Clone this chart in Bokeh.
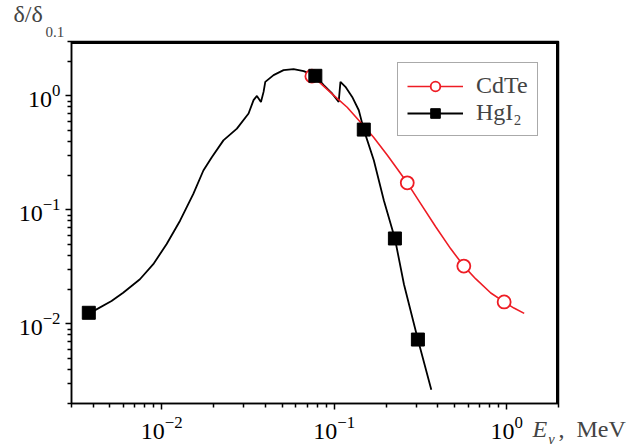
import math
from bokeh.plotting import figure
from bokeh.models import Range1d, FixedTicker, Label, Legend, LegendItem, LogTickFormatter
from bokeh.embed import file_html
from bokeh.resources import INLINE

# ---- data ----
hgi2_curve_x = [0.00378, 0.00409, 0.00512, 0.00598, 0.00748, 0.00894, 0.01069, 0.01278,
                0.01526, 0.01745, 0.01953, 0.0228, 0.0273, 0.0319, 0.0341, 0.03566,
                0.03764, 0.03898, 0.03988, 0.04455, 0.0509, 0.0582, 0.0666, 0.0778,
                0.0870, 0.0973, 0.1063, 0.1088, 0.1163, 0.1273, 0.139, 0.1486,
                0.170, 0.1943, 0.2251, 0.254, 0.306, 0.366]
hgi2_curve_y = [0.0125, 0.01312, 0.01585, 0.01875, 0.0246, 0.0334, 0.0501, 0.0803,
                0.138, 0.2215, 0.290, 0.407, 0.516, 0.700, 0.917, 1.0,
                0.885, 1.084, 1.328, 1.522, 1.684, 1.719, 1.651, 1.50,
                1.242, 1.050, 0.885, 1.328, 1.200, 0.980, 0.748, 0.506,
                0.2714, 0.1206, 0.0561, 0.02224, 0.00728, 0.00264]
hgi2_mark_x = [0.00378, 0.0778, 0.1486, 0.2251, 0.306]
hgi2_mark_y = [0.0125, 1.50, 0.506, 0.0561, 0.00728]

cdte_curve_x = [0.0743, 0.0832, 0.0991, 0.119, 0.1422, 0.1693, 0.2041, 0.2429, 0.2655,
                0.3175, 0.388, 0.4745, 0.565, 0.663, 0.810, 0.968, 1.103, 1.265]
cdte_curve_y = [1.49, 1.294, 1.014, 0.795, 0.586, 0.4327, 0.3003, 0.2084, 0.1726,
                0.1134, 0.0711, 0.0455, 0.0321, 0.02476, 0.01865, 0.01556, 0.01375, 0.01235]
cdte_mark_x = [0.0743, 0.2655, 0.565, 0.968]
cdte_mark_y = [1.49, 0.1726, 0.0321, 0.01556]

series_names = ["CdTe", "HgI\u2082"]
x_major_ticks = [0.01, 0.1, 1.0]
y_major_ticks = [0.01, 0.1, 1.0]
X_MIN, X_MAX = 0.003, 2.0
Y_MIN, Y_MAX = 0.002, 3.0

FONT = "Liberation Serif"
RED = "#ee1c24"

W, H = 636, 444
BL, BR, BT, BB = 71, 78, 41, 41
FRAME_W, FRAME_H = W - BL - BR, H - BT - BB

p = figure(width=W, height=H, x_axis_type="log", y_axis_type="log",
           x_range=Range1d(X_MIN, X_MAX), y_range=Range1d(Y_MIN, Y_MAX),
           output_backend="svg", toolbar_location=None,
           min_border_left=BL, min_border_right=BR, min_border_top=BT, min_border_bottom=BB)
p.background_fill_color = "white"
p.border_fill_color = "white"
p.outline_line_color = "black"
p.outline_line_width = 1.5
p.xgrid.visible = False
p.ygrid.visible = False

def minor_list(lo_exp, hi_exp, lo, hi):
    out = []
    for e in range(lo_exp, hi_exp + 1):
        for m in range(2, 10):
            v = m * 10.0 ** e
            if lo <= v <= hi * 1.0001:
                out.append(v)
    return out

p.xaxis.ticker = FixedTicker(ticks=x_major_ticks, minor_ticks=minor_list(-3, 0, X_MIN, X_MAX))
p.yaxis.ticker = FixedTicker(ticks=y_major_ticks, minor_ticks=minor_list(-3, 0, Y_MIN, Y_MAX))
for ax in (p.xaxis[0], p.yaxis[0]):
    ax.formatter = LogTickFormatter()
    ax.major_label_text_font = FONT
    ax.major_label_text_font_size = "24px"
    ax.major_label_text_color = "black"
    ax.axis_line_width = 1.5
    ax.major_tick_line_width = 1.5
    ax.minor_tick_line_width = 1.5
    ax.major_tick_out = 6
    ax.major_tick_in = 0
    ax.minor_tick_out = 4
    ax.minor_tick_in = 0
    ax.axis_line_color = "black"
p.xaxis.major_label_standoff = 7
p.yaxis.major_label_standoff = 5

# top and right edges of the frame, drawn just inside the range limits
inset = 1.5  # px
x_edge = X_MAX / 10 ** (math.log10(X_MAX / X_MIN) / FRAME_W * inset)
y_edge = Y_MAX / 10 ** (math.log10(Y_MAX / Y_MIN) / FRAME_H * inset)
p.segment(x0=[X_MIN, x_edge], y0=[y_edge, Y_MIN], x1=[X_MAX, x_edge], y1=[y_edge, Y_MAX],
          line_color="black", line_width=2)

# curves
hl = p.line(hgi2_curve_x, hgi2_curve_y, line_color="black", line_width=1.8)
cl = p.line(cdte_curve_x, cdte_curve_y, line_color=RED, line_width=1.6)
cm = p.scatter(cdte_mark_x, cdte_mark_y, marker="circle", size=13, fill_color="white",
               line_color=RED, line_width=1.8)
hm = p.scatter(hgi2_mark_x, hgi2_mark_y, marker="square", size=13, fill_color="black",
               line_color="black")

legend = Legend(items=[LegendItem(label=series_names[0], renderers=[cl, cm]),
                       LegendItem(label=series_names[1], renderers=[hl, hm])],
                location=(326, 267), margin=0, padding=9, spacing=0,
                glyph_width=56, glyph_height=24, label_height=24, label_standoff=13,
                label_text_font=FONT, label_text_font_size="24px",
                border_line_color="#555555", border_line_width=1,
                background_fill_color="white", background_fill_alpha=1.0)
p.add_layout(legend, "center")

def side_label(text, ax, ay, dx, dy, size, side, italic=False):
    lab = Label(x=ax, y=ay, x_units="data", y_units="data", x_offset=dx, y_offset=dy,
                text=text, text_font=FONT, text_font_size=size, level="overlay",
                text_font_style="italic" if italic else "normal")
    p.add_layout(lab, side)

# x title: E_γ, MeV  (anchored at the lower-right frame corner)
side_label("E", X_MAX, Y_MIN, -26, -38, "24px", "right", italic=True)
side_label("γ", X_MAX, Y_MIN, -10, -43, "15px", "left", italic=True)
side_label(",\u00a0\u00a0MeV", X_MAX, Y_MIN, 0, -38, "24px", "above")
# y title: δ/δ_0.1 (anchored at the upper-left frame corner)
side_label("δ/δ", X_MIN, Y_MAX, -58, 15, "24px", "right")
side_label("0.1", X_MIN, Y_MAX, -26, 5, "15px", "right")

open("out.html", "w").write(file_html(p, INLINE))
